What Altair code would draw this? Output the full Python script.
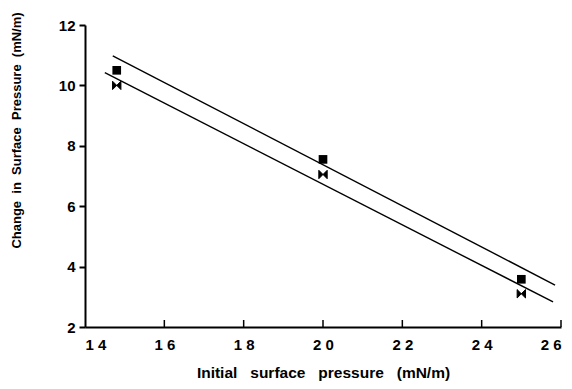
import altair as alt
import pandas as pd

# Measured data points
x_pts = [14.8, 20.0, 25.0]
sq_vals = [10.5, 7.55, 3.58]
bt_vals = [10.0, 7.05, 3.1]

# Regression line endpoints
upper_x = [14.7, 25.85]
upper_y = [10.98, 3.39]
lower_x = [14.5, 25.8]
lower_y = [10.42, 2.83]

x_ticks = [16, 18, 20, 22, 24, 26]
y_ticks = [2, 4, 6, 8, 10, 12]

W, H = 476, 302
FONT = "Liberation Sans"
NB3 = "\u00a0\u00a0 "
NB2 = "\u00a0 "

pts_sq = pd.DataFrame({"x": x_pts, "y": sq_vals})
pts_bt = pd.DataFrame({"x": x_pts, "y": bt_vals})
lines = pd.DataFrame({
    "x": upper_x + lower_x,
    "y": upper_y + lower_y,
    "s": ["upper"] * 2 + ["lower"] * 2,
})
ticks = pd.DataFrame({"x": x_ticks})

xs = alt.Scale(domain=[14, 26], nice=False, zero=False)
ys = alt.Scale(domain=[2, 12], nice=False, zero=False)

x_axis = alt.Axis(
    values=[14, 16, 18, 20, 22, 24, 26], ticks=False, grid=False,
    domainColor="black", domainWidth=2,
    labelFont=FONT, labelFontWeight=700, labelFontSize=15, labelColor="black",
    labelPadding=10,
    labelExpr="substring(datum.label,0,1) + ' ' + substring(datum.label,1)",
    title="Initial" + NB3 + "surface" + NB3 + "pressure" + NB3 + "(mN/m)",
    titleFont=FONT, titleFontWeight=700, titleFontSize=15.5, titleColor="black",
    titlePadding=13,
)
y_axis = alt.Axis(
    values=y_ticks, grid=False, domainColor="black", domainWidth=2,
    tickColor="black", tickSize=6, tickWidth=2,
    labelFont=FONT, labelFontWeight=700, labelFontSize=15, labelColor="black",
    labelPadding=4,
    title="Change" + NB2 + "in" + NB2 + "Surface" + NB2 + "Pressure" + NB2 + "(mN/m)",
    titleFont=FONT, titleFontWeight=700, titleFontSize=13, titleColor="black",
    titleX=-62, titleY=105, titleAlign="center", titleBaseline="bottom",
    titleAngle=270,
)

line_layer = alt.Chart(lines).mark_line(color="black", strokeWidth=1.4).encode(
    x=alt.X("x:Q", scale=xs, axis=x_axis),
    y=alt.Y("y:Q", scale=ys, axis=y_axis),
    detail="s:N",
)
sq_layer = alt.Chart(pts_sq).mark_point(
    shape="square", filled=True, color="black", size=75, opacity=1
).encode(x=alt.X("x:Q", scale=xs), y=alt.Y("y:Q", scale=ys))
bt_layer = alt.Chart(pts_bt).mark_point(
    shape="M-1,-1L1,1L1,-1L-1,1Z", filled=True, color="black", size=70, opacity=1,
    stroke="black", strokeWidth=1,
).encode(x=alt.X("x:Q", scale=xs), y=alt.Y("y:Q", scale=ys))
tick_layer = alt.Chart(ticks).mark_rule(color="black", strokeWidth=1.5).encode(
    x=alt.X("x:Q", scale=xs),
    y=alt.value(H),
    y2=alt.value(H - 7),
)

chart = alt.layer(line_layer, sq_layer, bt_layer, tick_layer).properties(
    width=W, height=H,
    autosize=alt.AutoSizeParams(type="none"),
    padding={"left": 77, "top": 17, "right": 3, "bottom": 54},
    background="white",
).configure_view(stroke=None)

chart.save("out.html", embed_options={"renderer": "svg", "actions": False})
